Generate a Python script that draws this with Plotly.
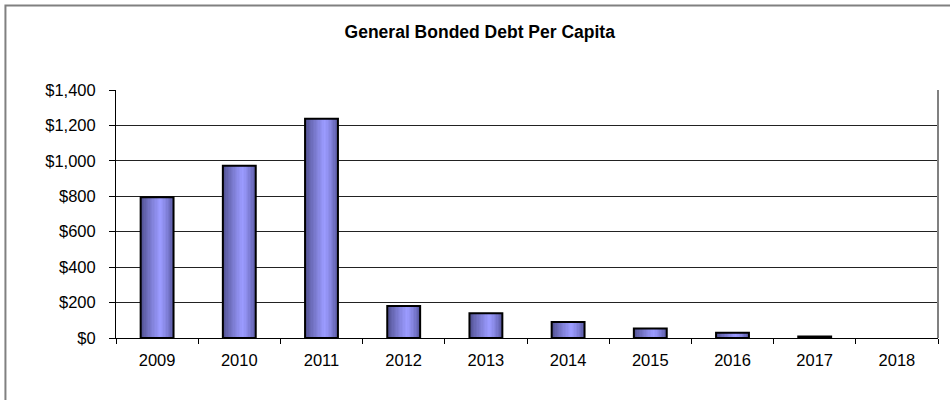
import plotly.graph_objects as go

# General bonded debt per capita
years = ["2009", "2010", "2011", "2012", "2013", "2014", "2015", "2016", "2017", "2018"]
debt_per_capita = [795, 972, 1237, 180, 140, 90, 54, 30, 9, 0]
y_ticks = [0, 200, 400, 600, 800, 1000, 1200, 1400]
y_tick_labels = ["$0", "$200", "$400", "$600", "$800", "$1,000", "$1,200", "$1,400"]

BAR_WIDTH = 0.4
N_STRIPS = 24


def strip_color(t):
    """Excel-like horizontal gradient: dark edges, light band a bit right of centre."""
    dark_l, light, dark_r = (72, 72, 132), (155, 155, 255), (88, 88, 160)
    peak = 0.6
    if t <= peak:
        a, b, f = dark_l, light, (t / peak) ** 0.8
    else:
        a, b, f = light, dark_r, ((t - peak) / (1 - peak)) ** 1.4
    return "rgb({},{},{})".format(*[round(a[i] + (b[i] - a[i]) * f) for i in range(3)])


fig = go.Figure()

strip_w = BAR_WIDTH / N_STRIPS
for i in range(N_STRIPS):
    t = (i + 0.5) / N_STRIPS
    fig.add_trace(go.Bar(
        x=years, y=debt_per_capita,
        width=strip_w * 1.05, offset=-BAR_WIDTH / 2 + i * strip_w,
        marker=dict(color=strip_color(t), line=dict(width=0)),
        hoverinfo="skip", showlegend=False,
    ))

# black outline on top (no outline for empty bars)
fig.add_trace(go.Bar(
    x=years, y=debt_per_capita, width=BAR_WIDTH,
    marker=dict(color="rgba(0,0,0,0)",
                line=dict(color="black", width=[2 if v > 0 else 0 for v in debt_per_capita])),
    showlegend=False,
))

fig.update_layout(
    barmode="overlay",
    width=950, height=400,
    margin=dict(l=116, r=12, t=90, b=62),
    paper_bgcolor="white", plot_bgcolor="white",
    font=dict(family="Liberation Sans, Arial, sans-serif", size=16.5, color="black"),
    title=dict(text="<b>General Bonded Debt Per Capita</b>", x=0.505, xanchor="center",
               y=0.92, yanchor="middle", font=dict(size=17.5, color="black")),
    xaxis=dict(
        type="category", showgrid=False, showline=True, linecolor="black", linewidth=1,
        ticks="outside", tickson="boundaries", ticklen=5, tickcolor="black",
        ticklabelstandoff=7, range=[-0.5, 9.5],
    ),
    yaxis=dict(
        range=[0, 1400], tickvals=y_ticks, ticktext=y_tick_labels,
        showgrid=True, gridcolor="#222222", gridwidth=1, zeroline=False,
        showline=True, linecolor="black", linewidth=1,
        ticks="outside", ticklen=6, tickcolor="black", ticklabelstandoff=10,
    ),
    shapes=[
        # right edge of the plot area
        dict(type="line", xref="paper", yref="paper", x0=1, x1=1, y0=0, y1=1,
             line=dict(color="#808080", width=2)),
        # outer chart border
        dict(type="rect", xref="paper", yref="paper", x0=-0.1345, x1=1.02, y0=-0.26, y1=1.3407,
             line=dict(color="#808080", width=2)),
    ],
)

# drop the default page margin so the figure sits at the window's top-left corner
fig.write_html("out.html", config={"displayModeBar": False},
               post_script="document.body.style.margin='0';")
